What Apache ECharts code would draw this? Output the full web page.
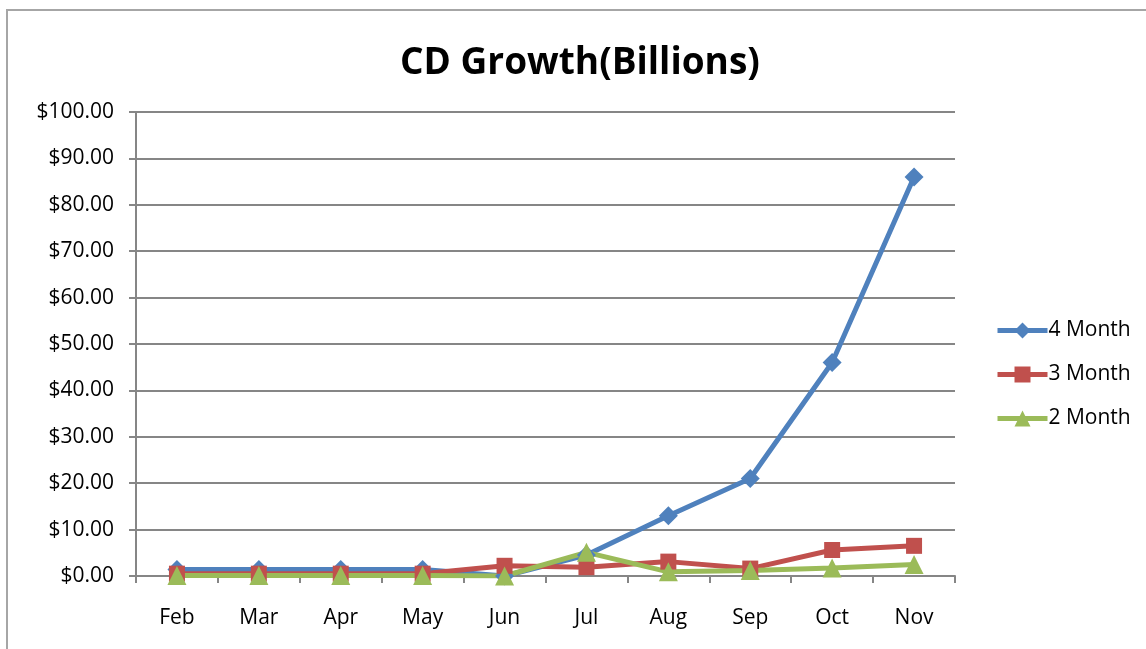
<!DOCTYPE html>
<html>
<head>
<meta charset="utf-8">
<script src="https://cdn.jsdelivr.net/npm/echarts@6/dist/echarts.min.js"></script>
<style>
  html, body { margin: 0; padding: 0; background: #fff; overflow: hidden; }
  #frame { position: absolute; left: 6px; top: 9px; width: 1300px; height: 800px; border-left: 2px solid #a6a6a6; border-top: 2px solid #a6a6a6; }
  #main { position: absolute; left: 0; top: 0; width: 1146px; height: 649px; }
</style>
</head>
<body>
<div id="frame"></div>
<div id="main"></div>
<script>
// CD growth by month, billions
var months = ['Feb', 'Mar', 'Apr', 'May', 'Jun', 'Jul', 'Aug', 'Sep', 'Oct', 'Nov'];
var fourMonth = [1.4, 1.4, 1.4, 1.4, 0, 4.5, 13, 21, 46, 86];
var threeMonth = [0.5, 0.5, 0.5, 0.5, 2.2, 1.9, 3.1, 1.6, 5.6, 6.5];
var twoMonth = [0.1, 0.1, 0.1, 0.1, 0, 5.1, 0.9, 1.2, 1.7, 2.5];

var myChart = echarts.init(document.getElementById('main'));

var font = 'Open Sans';

function line(name, data, color, symbol, size) {
    return {
        name: name,
        type: 'line',
        data: data,
        symbol: symbol,
        symbolSize: size,
        lineStyle: { color: color, width: 5 },
        itemStyle: { color: color },
        z: 3
    };
}

var option = {
    animation: false,
    title: {
        text: 'CD Growth(Billions)',
        left: 395,
        top: 40,
        textStyle: { fontFamily: font, fontSize: 37, fontWeight: 'bold', color: '#000' }
    },
    legend: {
        orient: 'vertical',
        left: 990,
        top: 315,
        itemGap: 23,
        itemWidth: 50,
        itemHeight: 20,
        lineStyle: { width: 5 },
        textStyle: { fontFamily: font, fontSize: 21, color: '#000', padding: [0, 0, 0, -4] },
        data: ['4 Month', '3 Month', '2 Month']
    },
    grid: { left: 136, right: 191, top: 112, bottom: 73 },
    xAxis: {
        type: 'category',
        data: months,
        boundaryGap: true,
        axisLine: { lineStyle: { color: '#868686', width: 2 } },
        axisTick: { show: true, length: 7, interval: 0, lineStyle: { color: '#868686', width: 2 } },
        axisLabel: { fontFamily: font, fontSize: 21, color: '#000', margin: 32 }
    },
    yAxis: {
        type: 'value',
        min: 0,
        max: 100,
        interval: 10,
        axisLine: { show: true, lineStyle: { color: '#868686', width: 2 } },
        axisTick: { show: true, length: 7, lineStyle: { color: '#868686', width: 2 } },
        splitLine: { lineStyle: { color: '#868686', width: 2 } },
        axisLabel: {
            fontFamily: font, fontSize: 21, color: '#000', margin: 22,
            formatter: function (v) { return '$' + v.toFixed(2); }
        }
    },
    series: [
        line('4 Month', fourMonth, '#4f81bd', 'diamond', 19),
        line('3 Month', threeMonth, '#c0504d', 'rect', 16),
        line('2 Month', twoMonth, '#9bbb59', 'triangle', 19)
    ]
};

myChart.setOption(option);
</script>
</body>
</html>
